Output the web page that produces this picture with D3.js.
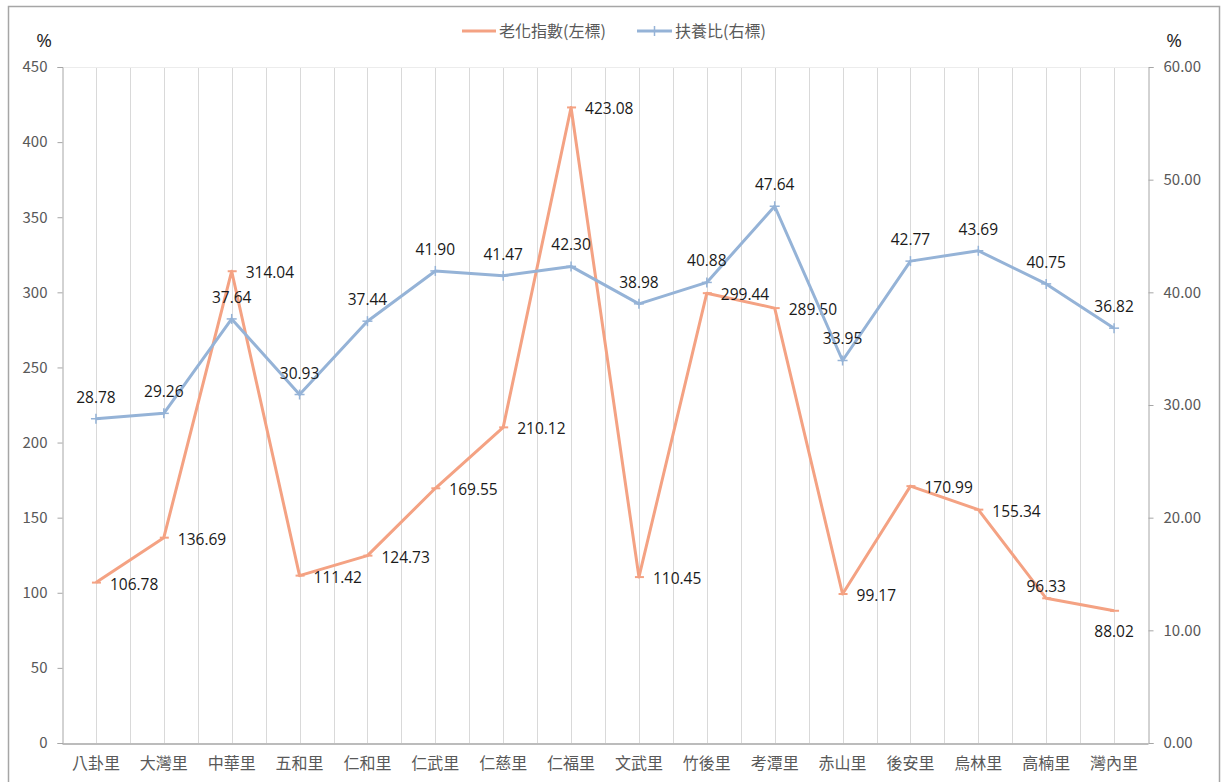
<!DOCTYPE html>
<html lang="zh-Hant">
<head>
<meta charset="utf-8"/>
<title>老化指數與扶養比</title>
<style>
  * { margin: 0; padding: 0; }
  body { background: #fff; }
  svg { display: block; }
  text { font-family: "Noto Sans CJK TC", "Noto Sans", sans-serif; }
  .num { font-family: "Open Sans", "Noto Sans", sans-serif; }
  .axis text { fill: #595959; font-size: 15px; }
  .axis .domain { stroke: #a6a6a6; }
  .axis .tick line { stroke: #a6a6a6; }
  .grid line { stroke: #d9d9d9; stroke-width: 1; }
  .dlabel { fill: #1a1a1a; font-size: 15.5px; }
</style>
<script src="https://d3js.org/d3.v7.min.js"></script>
</head>
<body>
<svg id="chart" width="1224" height="782"></svg>
<script>
// villages (categories)
const villages = ["八卦里", "大灣里", "中華里", "五和里", "仁和里", "仁武里", "仁慈里", "仁福里",
                  "文武里", "竹後里", "考潭里", "赤山里", "後安里", "烏林里", "高楠里", "灣內里"];
// aging index (left axis, %)
const agingIndex = [106.78, 136.69, 314.04, 111.42, 124.73, 169.55, 210.12, 423.08,
                    110.45, 299.44, 289.50, 99.17, 170.99, 155.34, 96.33, 88.02];
// dependency ratio (right axis, %)
const dependency = [28.78, 29.26, 37.64, 30.93, 37.44, 41.90, 41.47, 42.30,
                    38.98, 40.88, 47.64, 33.95, 42.77, 43.69, 40.75, 36.82];
const leftTicks = [0, 50, 100, 150, 200, 250, 300, 350, 400, 450];
const rightTicks = [0, 10, 20, 30, 40, 50, 60];
const seriesNames = ["老化指數(左標)", "扶養比(右標)"];

const orange = "#f4a283";
const blue = "#95b3d7";

const plotL = 62, plotR = 1148, plotT = 67, plotB = 743;

const svg = d3.select("#chart");

// outer chart border (bottom runs off the picture)
svg.append("rect")
  .attr("x", 8.5).attr("y", 6.5)
  .attr("width", 1211).attr("height", 800)
  .attr("fill", "none").attr("stroke", "#a6a6a6").attr("stroke-width", 1.5);

const x = d3.scaleBand().domain(villages).range([plotL, plotR]);
const yL = d3.scaleLinear().domain([0, 450]).range([plotB, plotT]);
const yR = d3.scaleLinear().domain([0, 60]).range([plotB, plotT]);
const cx = d => x(d) + x.bandwidth() / 2;

// vertical grid lines at each category and between categories
const gridX = [];
villages.forEach(v => { gridX.push(cx(v)); gridX.push(x(v) + x.bandwidth()); });
svg.append("g").attr("class", "grid")
  .selectAll("line").data(gridX.slice(0, -1)).enter().append("line")
  .attr("x1", d => Math.round(d) + 0.5).attr("x2", d => Math.round(d) + 0.5)
  .attr("y1", plotT).attr("y2", plotB);
svg.append("line")
  .attr("x1", plotL).attr("x2", plotR).attr("y1", plotT + 0.5).attr("y2", plotT + 0.5)
  .attr("stroke", "#ececec");

// left axis
svg.append("g").attr("class", "axis num")
  .attr("transform", `translate(${plotL + 0.5},0)`)
  .call(d3.axisLeft(yL).tickValues(leftTicks).tickSize(5).tickPadding(10).tickFormat(d3.format("d")));

// right axis
svg.append("g").attr("class", "axis num")
  .attr("transform", `translate(${plotR + 0.5},0)`)
  .call(d3.axisRight(yR).tickValues(rightTicks).tickSize(5).tickPadding(10).tickFormat(d3.format(".2f")));

// bottom axis (no tick marks)
const xAxis = svg.append("g").attr("class", "axis")
  .attr("transform", `translate(0,${plotB + 0.5})`)
  .call(d3.axisBottom(x).tickSize(0).tickPadding(14));
xAxis.select(".domain").attr("stroke", "#a6a6a6").attr("stroke-width", 1.5);
xAxis.selectAll("text").style("font-size", "16px").attr("fill", "#404040");

// "%" unit labels
svg.append("text").attr("x", 44).attr("y", 47).attr("text-anchor", "middle")
  .style("font-size", "19px").attr("fill", "#262626").attr("class", "num").text("%");
svg.append("text").attr("x", 1174).attr("y", 47).attr("text-anchor", "middle")
  .style("font-size", "19px").attr("fill", "#262626").attr("class", "num").text("%");

// aging index line
const lineL = d3.line().x((d, i) => cx(villages[i])).y(d => yL(d));
svg.append("path").attr("d", lineL(agingIndex))
  .attr("fill", "none").attr("stroke", orange).attr("stroke-width", 3).attr("stroke-linejoin", "round");
svg.append("g").selectAll("line").data(agingIndex).enter().append("line")
  .attr("x1", (d, i) => cx(villages[i]) - 4).attr("x2", (d, i) => cx(villages[i]) + 5)
  .attr("y1", d => yL(d)).attr("y2", d => yL(d))
  .attr("stroke", orange).attr("stroke-width", 2);
// most labels sit to the right of the point; the last two are centred above / below it
const centredShift = { 14: -6, 15: 26 };
svg.append("g").selectAll("text").data(agingIndex).enter().append("text")
  .attr("class", "dlabel num")
  .attr("text-anchor", (d, i) => i in centredShift ? "middle" : "start")
  .attr("x", (d, i) => cx(villages[i]) + (i in centredShift ? 0 : 14))
  .attr("y", (d, i) => yL(d) + (i in centredShift ? centredShift[i] : 7))
  .text(d => d3.format(".2f")(d));

// dependency ratio line
const lineR = d3.line().x((d, i) => cx(villages[i])).y(d => yR(d));
svg.append("path").attr("d", lineR(dependency))
  .attr("fill", "none").attr("stroke", blue).attr("stroke-width", 3).attr("stroke-linejoin", "round");
const plus = svg.append("g").selectAll("g").data(dependency).enter().append("g")
  .attr("transform", (d, i) => `translate(${cx(villages[i])},${yR(d)})`);
plus.append("line").attr("x1", -5).attr("x2", 5).attr("stroke", blue).attr("stroke-width", 1.5);
plus.append("line").attr("y1", -5).attr("y2", 5).attr("stroke", blue).attr("stroke-width", 1.5);
svg.append("g").selectAll("text").data(dependency).enter().append("text")
  .attr("class", "dlabel num")
  .attr("text-anchor", "middle")
  .attr("x", (d, i) => cx(villages[i]))
  .attr("y", d => yR(d) - 16)
  .text(d => d3.format(".2f")(d));

// legend
const legend = svg.append("g").attr("transform", "translate(0,31)");
legend.append("line").attr("x1", 462).attr("x2", 496).attr("stroke", orange).attr("stroke-width", 3);
legend.append("text").attr("x", 499).attr("y", 6).style("font-size", "16px").attr("fill", "#595959").text(seriesNames[0]);
legend.append("line").attr("x1", 637).attr("x2", 672).attr("stroke", blue).attr("stroke-width", 3);
legend.append("line").attr("x1", 654.5).attr("x2", 654.5).attr("y1", -5).attr("y2", 5).attr("stroke", blue).attr("stroke-width", 1.5);
legend.append("text").attr("x", 675).attr("y", 6).style("font-size", "16px").attr("fill", "#595959").text(seriesNames[1]);
</script>
</body>
</html>
